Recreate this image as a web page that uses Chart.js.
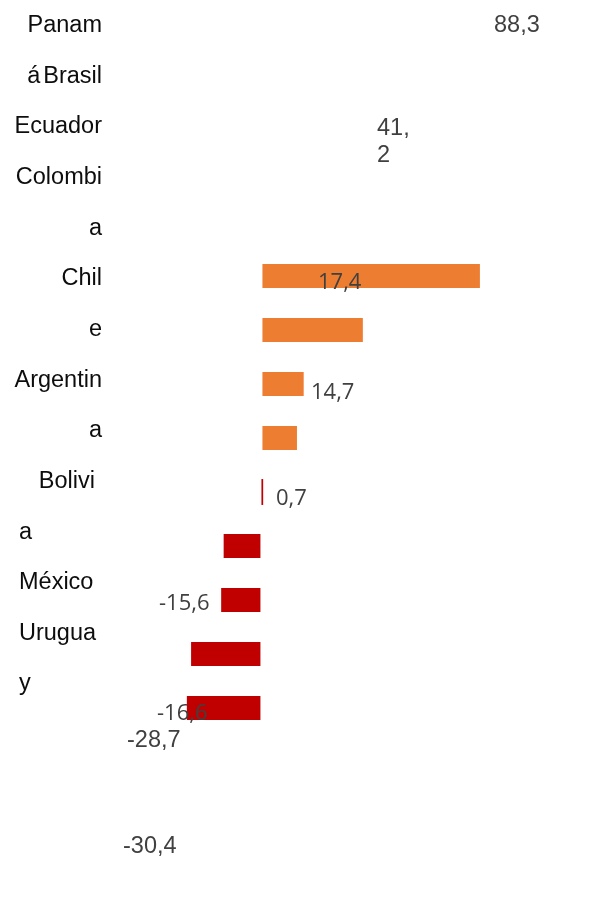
<!DOCTYPE html>
<html>
<head>
<meta charset="utf-8">
<script src="https://cdn.jsdelivr.net/npm/chart.js@4/dist/chart.umd.min.js"></script>
<style>
  html, body { margin: 0; padding: 0; background: #fff; }
  #wrap { width: 592px; height: 921px; position: relative; }
</style>
</head>
<body>
<div id="wrap"><canvas id="chart"></canvas></div>
<script>
/* ── country variation bars (horizontal, orange / red) ──────── */

const countries = ['Panamá', 'Brasil', 'Ecuador', 'Colombia', 'Chile', 'Argentina', 'Bolivia', 'México', 'Uruguay'];
const values = [88.3, 41.2, 17.4, 14.7, 0.7, -15.6, -16.6, -28.7, -30.4];
const barColors = ['#ED7D31', '#ED7D31', '#ED7D31', '#ED7D31', '#C00000', '#C00000', '#C00000', '#C00000', '#C00000'];

// Category names as they wrap in the left column
const labelLines = ['Panam', 'á|Brasil', 'Ecuador', 'Colombi', 'a', 'Chil', 'e', 'Argentin', 'a', 'Bolivi', 'a', 'México', 'Urugua', 'y'];

const fmt = (v) => v.toFixed(1).replace('.', ',');

// Text overlay: left column + value labels (drawn after bars, like the original)
const textPlugin = {
  id: 'textOverlay',
  afterDatasetsDraw(chart) {
    const c = chart.ctx;
    c.save();

    // left column
    c.font = '23.5px "Liberation Sans", Arial, sans-serif';
    c.fillStyle = '#0d0d0d';
    c.textBaseline = 'alphabetic';
    labelLines.forEach((line, i) => {
      const y = 32 + i * 50.65;
      if (i >= 10) {
        c.textAlign = 'left';
        c.fillText(line, 19, y);
      } else if (line.includes('|')) {
        const [a, b] = line.split('|');
        c.textAlign = 'right';
        c.fillText(b, 102, y);
        c.fillText(a, 102 - c.measureText(b).width - 3, y);
      } else {
        c.textAlign = 'right';
        c.fillText(line, i === 9 ? 95 : 102, y);
      }
    });

    // value labels
    c.fillStyle = '#404040';
    c.textAlign = 'left';
    const arial = '23.5px "Liberation Sans", Arial, sans-serif';
    const sans = '22px "Open Sans", sans-serif';
    const spots = [
      { x: 494, y: 32, font: arial },
      { x: 377, y: 135, font: arial, split: true },
      { x: 318, y: 289, font: sans },
      { x: 311, y: 399, font: sans },
      { x: 276, y: 505, font: sans },
      { x: 159, y: 610, font: sans },
      { x: 157, y: 720, font: sans },
      { x: 127, y: 747, font: arial },
      { x: 123, y: 853, font: arial },
    ];
    values.forEach((v, i) => {
      const s = spots[i];
      const txt = fmt(v);
      c.font = s.font;
      if (s.split) {
        const k = txt.indexOf(',') + 1;
        c.fillText(txt.slice(0, k), s.x, s.y);
        c.fillText(txt.slice(k), s.x, s.y + 27);
      } else {
        c.fillText(txt, s.x, s.y);
      }
    });

    c.restore();
  }
};

new Chart(document.getElementById('chart'), {
  type: 'bar',
  data: {
    labels: countries,
    datasets: [{
      data: values,
      backgroundColor: barColors,
      borderColor: 'rgba(255, 255, 255, 0.45)',
      borderWidth: values.map(v => Math.abs(v) < 2 ? 0 : 1),
      borderSkipped: false,
      barPercentage: 0.48,
      categoryPercentage: 1,
    }]
  },
  options: {
    indexAxis: 'y',
    responsive: true,
    maintainAspectRatio: false,
    animation: false,
    layout: { padding: { left: 162, right: 82, top: 249, bottom: 186 } },
    plugins: {
      legend: { display: false },
      tooltip: { enabled: false },
    },
    scales: {
      x: { min: -40, max: 100, display: false },
      y: { display: false },
    },
  },
  plugins: [textPlugin],
});
</script>
</body>
</html>
